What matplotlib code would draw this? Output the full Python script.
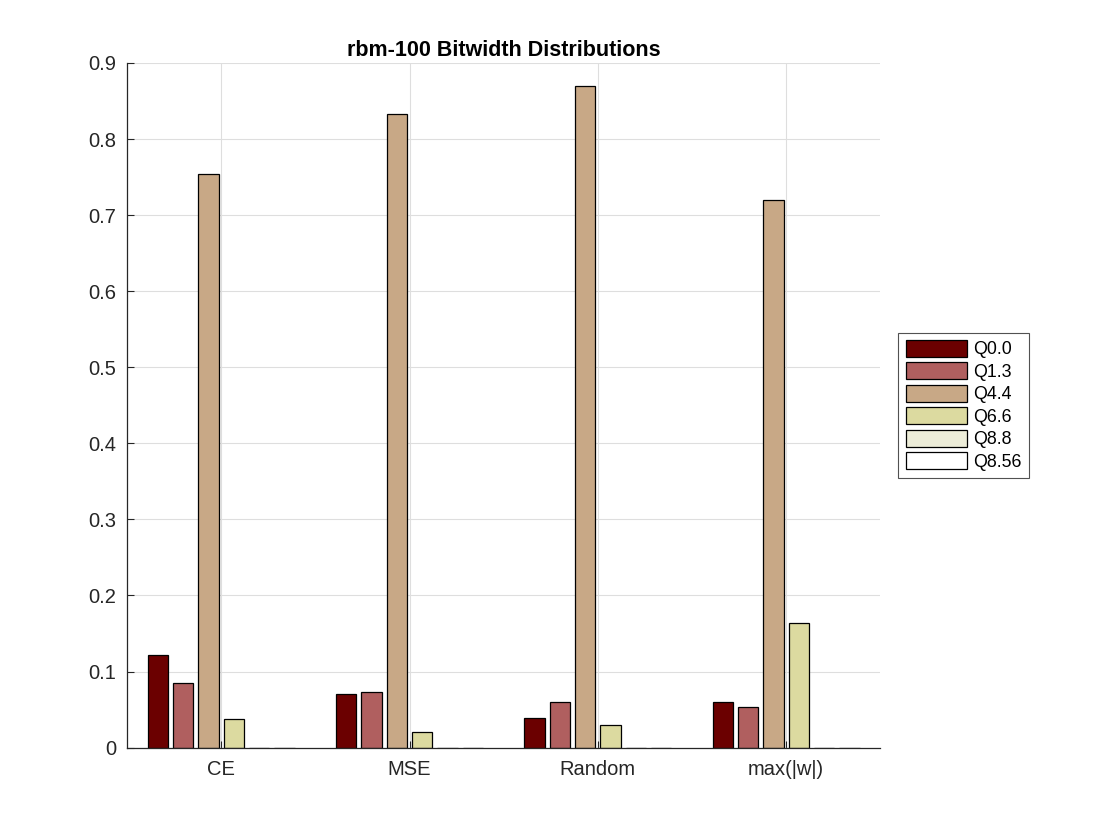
import matplotlib
matplotlib.use("Agg")
import matplotlib.pyplot as plt
import numpy as np

plt.rcParams['font.family'] = ['Liberation Sans', 'DejaVu Sans']

categories = ["CE", "MSE", "Random", "max(|w|)"]
series_names = ["Q0.0", "Q1.3", "Q4.4", "Q6.6", "Q8.8", "Q8.56"]
q00 = [0.122, 0.071, 0.0395, 0.0605]
q13 = [0.0855, 0.0737, 0.0605, 0.054]
q44 = [0.754, 0.833, 0.870, 0.7195]
q66 = [0.037, 0.021, 0.030, 0.164]
q88 = [0.0, 0.0, 0.0, 0.0]
q856 = [0.0, 0.0, 0.0, 0.0]
series_values = [q00, q13, q44, q66, q88, q856]
colors = ["#6b0000", "#b05f5f", "#c8a886", "#dcdaa0", "#ededd9", "#ffffff"]
yticks = [0, 0.1, 0.2, 0.3, 0.4, 0.5, 0.6, 0.7, 0.8, 0.9]

fig = plt.figure(figsize=(11.2, 8.4), dpi=100)
ax = fig.add_axes([0.1134, 0.110, 0.6726, 0.815])

x = np.arange(1, len(categories) + 1)
pitch = 0.1345
width = 0.109
n = len(series_names)
for i, (name, vals, c) in enumerate(zip(series_names, series_values, colors)):
    off = (i - (n - 1) / 2) * pitch
    ax.bar(x + off, vals, width=width, color=c, edgecolor="black", linewidth=0.9,
           label=name, zorder=3)

ax.set_xlim(0.5, 4.5)
ax.set_ylim(0, 0.9)
ax.set_xticks(x)
ax.set_xticklabels(categories)
ax.set_yticks(yticks)
ax.set_yticklabels([f"{v:g}" for v in yticks])
ax.tick_params(axis="both", direction="in", length=5, width=0.8, labelsize=14.5,
               colors="#262626", pad=8)
ax.tick_params(axis="x", pad=9)
for s in ["top", "right"]:
    ax.spines[s].set_visible(False)
for s in ["left", "bottom"]:
    ax.spines[s].set_color("#262626")
    ax.spines[s].set_linewidth(0.9)
    ax.spines[s].set_zorder(4)
ax.grid(True, color="#dedede", linewidth=0.8, zorder=0)
ax.set_axisbelow(True)
ax.set_title("rbm-100 Bitwidth Distributions", fontsize=15.5, fontweight="bold", pad=5)

leg = ax.legend(loc="center left", bbox_to_anchor=(1.024, 0.50), fontsize=12.8,
                frameon=True, fancybox=False, edgecolor="#262626",
                handlelength=3.45, handleheight=1.1, handletextpad=0.35,
                labelspacing=0.22, borderpad=0.4, borderaxespad=0)
leg.get_frame().set_linewidth(0.8)

fig.savefig("out.png", dpi=100, facecolor="white")
